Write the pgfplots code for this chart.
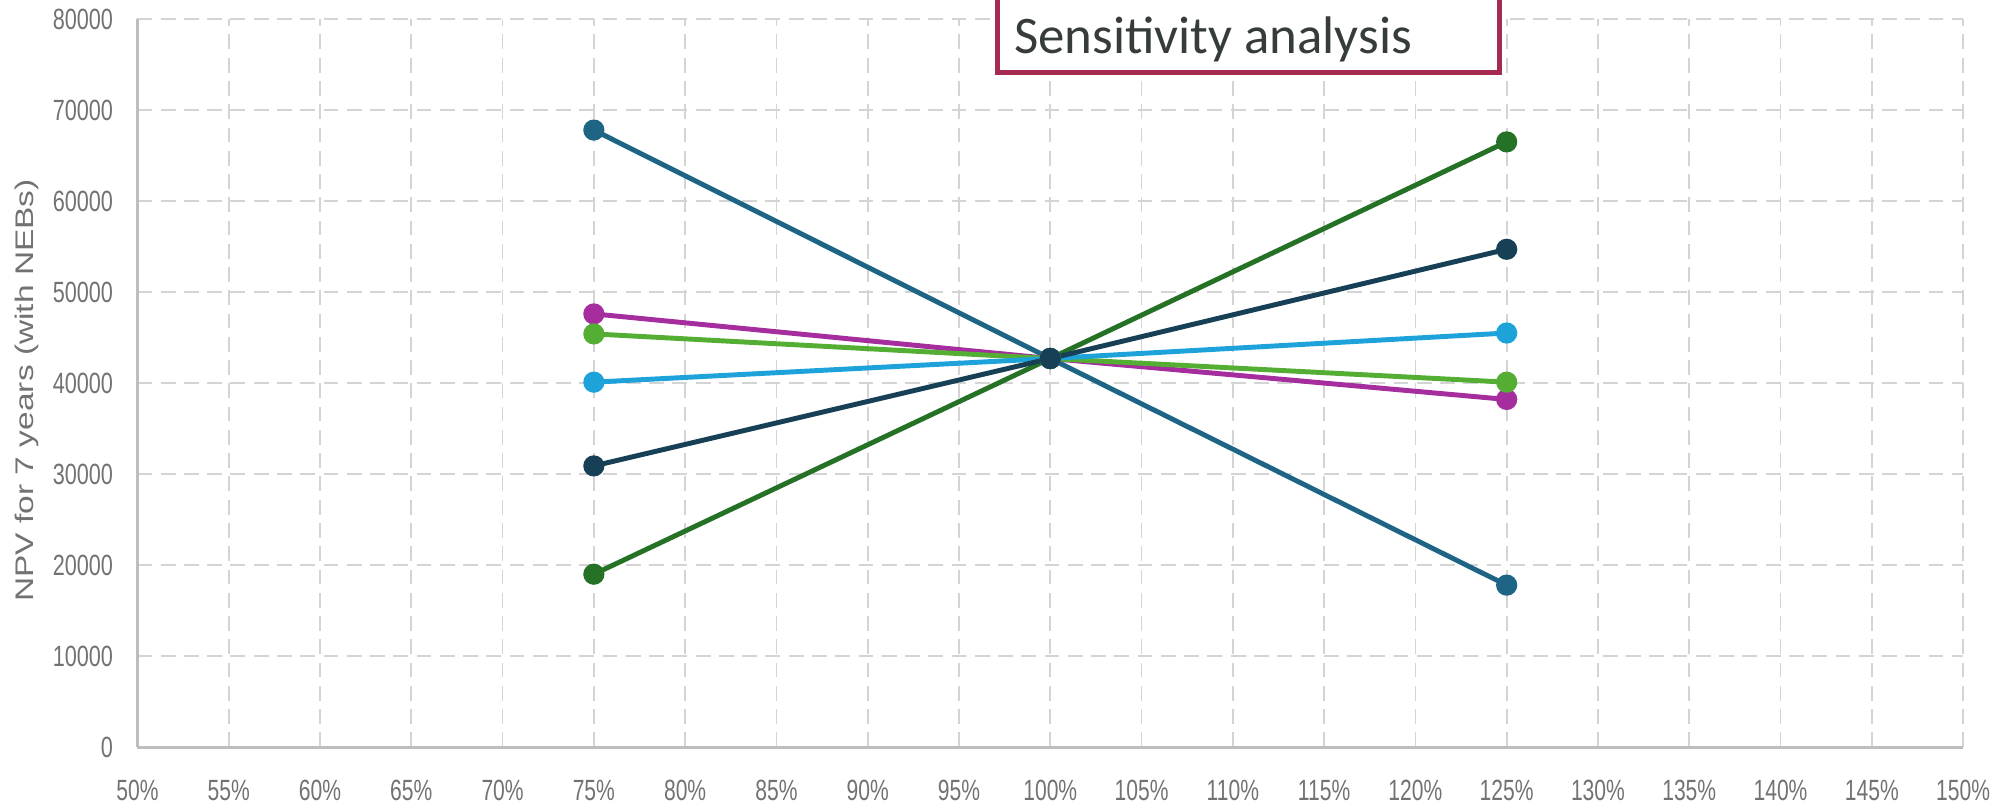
\documentclass[border=0pt]{standalone}
\usepackage{fontspec}
\setmainfont{Liberation Sans}
\newfontfamily\calibri{Carlito}
\usepackage{graphicx}
\usepackage{pgfplots}
\pgfplotsset{compat=1.18}

\definecolor{gridgray}{HTML}{D4D4D4}
\definecolor{axisgray}{HTML}{BEBEBE}
\definecolor{labelgray}{HTML}{727272}
\definecolor{cteal}{HTML}{1E6585}
\definecolor{cdkgreen}{HTML}{257126}
\definecolor{cnavy}{HTML}{173F56}
\definecolor{cltblue}{HTML}{1EA2DA}
\definecolor{cltgreen}{HTML}{54AE34}
\definecolor{cmagenta}{HTML}{A52D9E}
\definecolor{boxred}{HTML}{A62A50}
\definecolor{titlegray}{HTML}{363B3B}

\begin{document}
\begin{tikzpicture}
\begin{axis}[
  scale only axis,
  width=518pt, height=206.6pt,
  xmin=50, xmax=150,
  ymin=0, ymax=80000,
  xtick={50,55,...,150},
  ytick={0,10000,...,80000},
  scaled y ticks=false,
  /pgf/number format/assume math mode=true,
  /pgf/number format/set thousands separator={},
  xticklabel={\scalebox{0.72}[1]{\pgfmathprintnumber{\tick}\%}},
  yticklabel={\scalebox{0.74}[1]{\pgfmathprintnumber{\tick}}},
  tick label style={text=labelgray, font=\fontsize{8.3}{9}\selectfont},
  xticklabel style={yshift=-5.8pt},
  yticklabel style={xshift=-3.4pt},
  major tick length=0pt,
  axis lines=left,
  axis line style={-, draw=axisgray, line width=0.8pt},
  grid=major,
  major grid style={draw=gridgray, line width=0.5pt, dash pattern=on 4.2pt off 2.4pt},
  ylabel={\scalebox{1}[0.76]{NPV for 7 years (with NEBs)}},
  ylabel style={at={(axis description cs:-0.0608,0.49)}, anchor=center,
    font=\fontsize{9.5}{11}\selectfont, text=labelgray},
  every axis plot/.append style={line width=1.4pt, mark=*, mark size=2.3pt},
  clip=false,
  ]
  % teal: falls
  \addplot[color=cteal] coordinates {(75,67800) (100,42700) (125,17800)};
  % magenta
  \addplot[color=cmagenta] coordinates {(75,47600) (100,42700) (125,38200)};
  % light green
  \addplot[color=cltgreen] coordinates {(75,45400) (100,42700) (125,40100)};
  % light blue
  \addplot[color=cltblue] coordinates {(75,40100) (100,42700) (125,45500)};
  % dark green
  \addplot[color=cdkgreen] coordinates {(75,19000) (100,42700) (125,66500)};
  % navy
  \addplot[color=cnavy] coordinates {(75,30900) (100,42700) (125,54700)};
\end{axis}

% title box, top edge runs off the picture
\path (current axis.south west) ++(0.471*518pt,0.926*206.6pt) coordinate (bl);
\path (current axis.south west) ++(0.746*518pt,1.1*206.6pt) coordinate (tr);
\filldraw[fill=white, draw=boxred, line width=1.4pt] (bl) rectangle (tr);
\node[anchor=base west, font=\calibri\fontsize{15}{18}\selectfont, text=titlegray, inner sep=0pt]
  at ([xshift=4.6pt, yshift=5.4pt]bl) {Sensitivity analysis};

\pgfresetboundingbox
\path ([xshift=-39pt, yshift=-18.2pt]current axis.south west)
  rectangle ([xshift=11.9pt, yshift=5.4pt]current axis.north east);
\end{tikzpicture}
\end{document}
